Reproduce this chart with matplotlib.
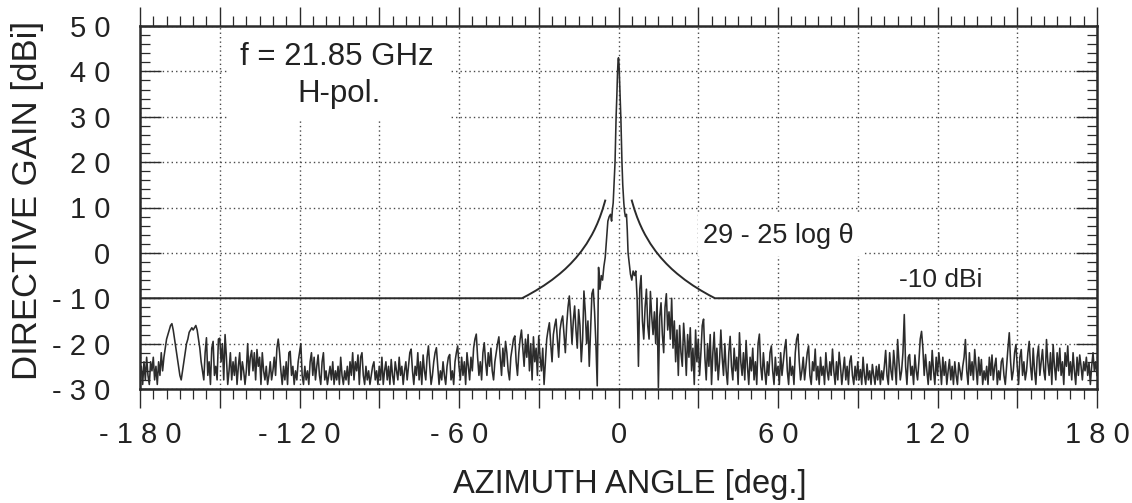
import numpy as np
import matplotlib
matplotlib.use("Agg")
import matplotlib.pyplot as plt
from matplotlib.ticker import MultipleLocator, FuncFormatter
from matplotlib.patches import Rectangle

# ---------------- data ----------------
# measured pattern, |theta| > 6 deg, sampled every 0.5 deg
left_start, right_start, step = -180.0, 6.5, 0.5
left_gain = [
    -27, -25, -29, -24, -28, -23, -27, -29, -24, -26, -23, -28, -25, -29, -24, -27, -22, -26, -23, -21,
    -19, -18, -17, -16, -15.6, -17, -19, -21, -23, -25, -27, -28, -26, -24, -22, -20, -19, -17.5, -17, -16.5,
    -17, -16.5, -16, -17, -19, -21, -24, -26, -28, -22, -18.7, -27, -24, -29, -21, -19.5, -27, -25, -28, -19,
    -18.8, -24, -20, -28, -18, -23, -29, -26, -22, -28, -24, -27, -23, -29, -25, -22, -28, -24, -26, -29,
    -26, -20, -27, -23, -21.5, -26, -22, -28, -21.3, -25, -23, -29, -22, -26, -28, -25, -29, -27, -24, -28,
    -26, -23, -27, -21, -19, -22, -26, -29, -25, -28, -24, -29, -22, -21.7, -27, -25, -29, -26, -28, -24,
    -22, -20, -27, -29, -25, -28, -26, -29, -24, -22, -27, -23, -28, -25, -22.5, -27, -29, -24, -22, -28,
    -26, -29, -27, -25, -28, -24, -29, -26, -28, -25, -29, -23, -27, -29, -26, -28, -25, -29, -24, -27,
    -22, -28, -24, -26, -22.5, -29, -23, -22, -27, -29, -25, -28, -26, -29, -27, -25, -24, -28, -26, -29,
    -25, -28, -23, -29, -26, -24, -28, -25, -29, -23.5, -27, -29, -24, -26, -28, -23, -27, -25, -29, -26,
    -24, -28, -25, -22, -21.2, -26, -29, -25, -27, -22, -28, -24, -29, -22.5, -26, -28, -23, -20.5, -25, -29,
    -27, -24, -22, -20.9, -25, -29, -26, -28, -24, -27, -29, -25, -23, -22.4, -28, -26, -29, -24, -22, -20.5,
    -25, -28, -23, -27, -24, -29, -22, -25, -28, -23, -26, -21, -19, -17.9, -23, -27, -24, -28, -22, -19.8,
    -24, -27, -22, -25, -21, -26, -28, -24, -22, -20, -18.5, -23, -27, -21, -25, -19.5, -22, -26, -28, -23,
    -21, -19, -18.3, -24, -27, -22, -19, -17, -21, -25, -19, -23, -18, -26, -20, -28, -18.5, -24, -21, -27,
    -18.3, -23, -26, -21, -29, -24, -19, -17, -15.4, -20, -24, -18, -16, -14.6, -19, -23, -17, -15, -13.9, -18,
    -22, -16, -12, -9.5, -14, -20, -15, -11.7, -17, -21, -12.5, -16, -24, -19, -8.4, -13, -20, -15, -25, -17,
    -9, -8, -13, -20, -29.3, -3.2, -8, -5,
]
# main beam region, -6 .. 6 deg
beam_angle = [-6.0, -5.5, -5.0, -4.5, -4.0, -3.5, -3.0, -2.6, -2.3, -2.0, -1.6, -1.3, -1.1, -0.9,
              -0.6, -0.35, -0.15, 0.0, 0.2, 0.4, 0.65, 0.9, 1.1, 1.3, 1.6, 2.0, 2.3, 2.6, 3.0,
              3.3, 3.6, 4.0, 4.5, 5.0, 5.5, 6.0]
beam_gain = [-6, -3, -1, 3, 7, 8, 8.5, 7, 9.5, 11, 16, 20, 25, 30, 35, 40, 42.5, 43, 41.5, 38,
             34, 29.5, 25, 20, 15, 11, 9, 8, 8.5, 5, 0, -2, -4.7, -6, -4, -5]
right_gain = [
    -4, -10, -25, -8, -5, -15, -19,
    -12, -8, -16, -19, -8.5, -14, -18, -13, -20, -10, -29.7, -14, -11, -18, -22, -12, -9, -17, -13, -19,
    -10, -21, -15, -24, -17, -27, -16, -22, -25, -15.5, -20, -27, -18, -23, -16.5, -26, -21, -29, -17, -24,
    -19, -27, -22, -16, -14.6, -23, -28, -20, -25, -18, -29, -22, -17.5, -26, -21, -28, -24, -17, -23, -27,
    -20, -26, -29, -22, -18.4, -25, -28, -21, -26, -23, -29, -17.6, -24, -27, -22, -28, -19.3, -25, -29, -23,
    -26, -21, -28, -24, -29, -20, -17.9, -25, -28, -22, -26, -29, -24, -27, -22, -20.5, -26, -29, -23, -27,
    -25, -29, -22, -27, -24, -21, -19.1, -26, -29, -23, -27, -25, -29, -22, -19, -17.9, -24, -28, -26, -23,
    -28, -25, -22, -20.5, -27, -29, -24, -26, -21.2, -28, -25, -29, -23, -27, -25, -29, -22, -26, -28, -24,
    -27, -21.2, -26, -29, -24, -28, -21.9, -25, -29, -26, -23, -28, -25, -29, -24, -22.7, -27, -29, -25, -28,
    -24, -28, -25.7, -29, -23, -27, -29, -24.5, -28, -26, -29, -24.6, -27, -29, -25, -28, -24.6, -29, -26, -28,
    -25, -21.5, -27, -29, -22, -26, -28, -21.5, -25, -29, -19.1, -24, -28, -26, -22, -13.6, -25, -29, -23, -22.4,
    -27, -25, -29, -22.5, -26, -28, -24, -19, -17.3, -21, -27, -22.4, -26, -29, -24, -28, -21.5, -26, -29, -23,
    -27, -22, -25, -29, -23, -27, -24, -29, -26, -23.5, -28, -25, -29, -24, -27, -29, -24.2, -26, -28, -25,
    -23, -19.1, -26, -29, -22, -27, -24, -28, -21.3, -25, -29, -23, -27, -23.5, -29, -26, -28, -25, -29, -23,
    -27, -22.5, -28, -25, -23.2, -29, -26, -28, -24, -23.2, -27, -29, -25, -21, -17.6, -24, -28, -26, -22, -20.2,
    -25, -29, -23, -21.3, -27, -24, -28, -26, -22, -19.5, -25, -28, -21, -26, -29, -23, -20.5, -27, -24, -21.3,
    -26, -28, -19.1, -24, -27, -22, -29, -20.2, -25, -28, -22, -26, -21, -27, -24, -29, -22, -25, -20.5, -27,
    -24, -28, -22, -26, -29, -23, -27, -22.5, -25, -28, -24, -26, -23, -27, -24.2, -29, -25, -22, -26, -24, -27,
]
# reference envelope 29 - 25 log(theta) and -10 dBi floor
mask_theta = [5, 6, 7, 8, 9, 10, 12, 14, 16, 18, 20, 22, 25, 28, 31, 34, 36.3, 180]
mask_gain = [11.53, 9.55, 7.87, 6.42, 5.14, 4.0, 2.02, 0.35, -1.10, -2.38, -3.53, -4.56,
             -5.95, -7.18, -8.28, -9.29, -10.0, -10.0]

x_tick_values = [-180, -120, -60, 0, 60, 120, 180]
x_tick_labels = ['-180', '-120', '-60', '0', '60', '120', '180']
y_tick_values = [50, 40, 30, 20, 10, 0, -10, -20, -30]
y_tick_labels = ['50', '40', '30', '20', '10', '0', '-10', '-20', '-30']

# ---------------- build series ----------------
left_angle = left_start + step * np.arange(len(left_gain))
right_angle = right_start + step * np.arange(len(right_gain))
angle = np.concatenate([left_angle, beam_angle, right_angle])
gain = np.concatenate([left_gain, beam_gain, right_gain])

mt = np.array(mask_theta, dtype=float)
mg = np.array(mask_gain, dtype=float)

# ---------------- figure ----------------
plt.rcParams['font.family'] = ['Liberation Sans', 'DejaVu Sans']
W, H = 1132, 503
fig = plt.figure(figsize=(W / 100, H / 100), dpi=100)
ax = fig.add_axes([140 / W, 1 - 389 / H, (1097 - 140) / W, (389 - 26) / H])
ax.set_xlim(-180, 180)
ax.set_ylim(-30, 50)

ink = '#2a2a2a'
ax.plot(angle, gain, color='#2c2c2c', lw=1.15, zorder=3)
ax.plot(mt, mg, color=ink, lw=1.4, zorder=3)
ax.plot(-mt, mg, color=ink, lw=1.4, zorder=3)

# grid
ax.set_axisbelow(True)
ax.xaxis.set_major_locator(MultipleLocator(30))
ax.xaxis.set_minor_locator(MultipleLocator(5))
ax.yaxis.set_major_locator(MultipleLocator(10))
ax.yaxis.set_minor_locator(MultipleLocator(2))
ax.grid(True, which='major', color='#4a4a4a', lw=1.0, linestyle=(0, (1, 2.2)))

xlab = {v: ' '.join(t) for v, t in zip(x_tick_values, x_tick_labels)}
ylab = {v: ' '.join(t) for v, t in zip(y_tick_values, y_tick_labels)}
ax.xaxis.set_major_formatter(FuncFormatter(lambda v, p: xlab.get(int(round(v)), '')))
ax.yaxis.set_major_formatter(FuncFormatter(lambda v, p: ylab.get(int(round(v)), '')))

ax.tick_params(axis='x', which='both', direction='out', top=True, bottom=True, colors=ink)
ax.tick_params(axis='x', which='major', length=14, width=1.0, pad=9, labelsize=21)
ax.tick_params(axis='x', which='minor', length=7, width=0.9)
ax.tick_params(axis='y', which='both', direction='in', left=True, right=True, colors=ink)
ax.tick_params(axis='y', which='major', length=15, width=1.0, pad=21.5, labelsize=21)
ax.tick_params(axis='y', which='minor', length=7, width=0.9)
for lab in ax.get_xticklabels() + ax.get_yticklabels():
    lab.set_color('#222222')
for s in ax.spines.values():
    s.set_linewidth(1.8)
    s.set_color(ink)

# white boxes behind the annotations (cover the grid)
for (x0, x1, y0, y1) in [(-146.9, -63.0, 29.3, 50), (29.9, 92.0, -0.7, 9.0), (95.0, 145.8, -9.7, -0.6)]:
    ax.add_patch(Rectangle((x0, y0), x1 - x0, y1 - y0, facecolor='white', edgecolor='none', zorder=1))

tc = '#222222'
ax.text(-105.9, 41.4, 'f = 21.85 GHz', ha='center', va='baseline', fontsize=22.5, color=tc, zorder=4)
ax.text(-105.3, 33.3, 'H-pol.', ha='center', va='baseline', fontsize=22.5, color=tc, zorder=4)
ax.text(60.0, 2.2, '29 - 25 log \u03b8', ha='center', va='baseline', fontsize=19.5, color=tc, zorder=4)
ax.text(121.3, -7.5, '-10 dBi', ha='center', va='baseline', fontsize=19, color=tc, zorder=4)

fig.text(630 / W, 1 - 493 / H, 'AZIMUTH ANGLE [deg.]', ha='center', va='baseline', fontsize=23.5, color=tc)
fig.text(28 / W, 1 - 200 / H, 'DIRECTIVE GAIN [dBi]', ha='center', va='center', rotation=90,
         fontsize=25, color=tc)

fig.savefig('out.png', dpi=100, facecolor='white')
